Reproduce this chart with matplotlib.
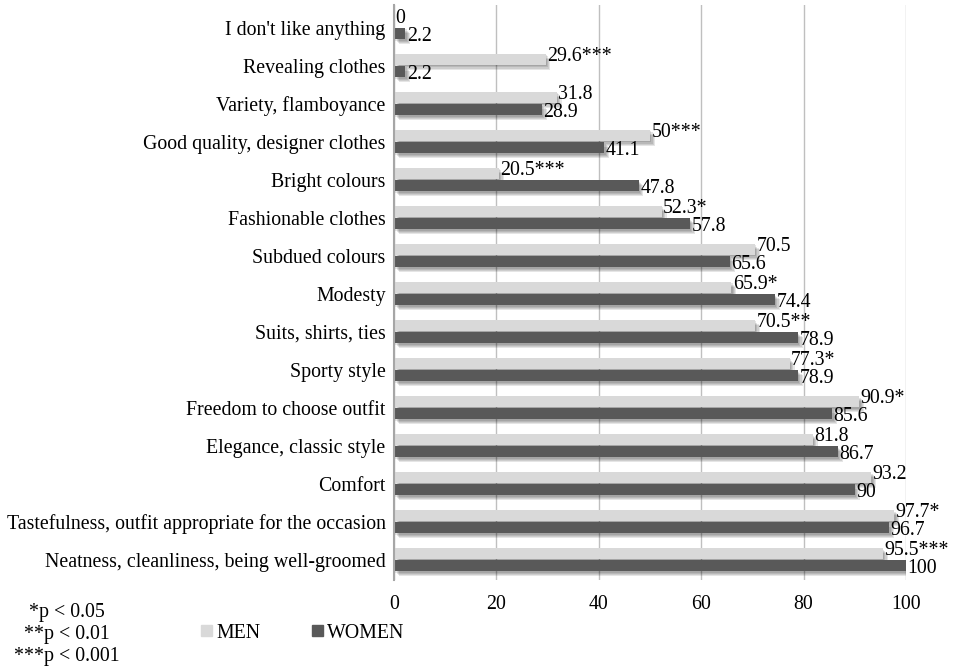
import matplotlib.pyplot as plt
import matplotlib.patheffects as pe
from matplotlib.patches import Patch
import numpy as np

plt.rcParams['font.family'] = ['Liberation Serif', 'DejaVu Serif']

categories = ["I don't like anything", "Revealing clothes", "Variety, flamboyance",
              "Good quality, designer clothes", "Bright colours", "Fashionable clothes",
              "Subdued colours", "Modesty", "Suits, shirts, ties", "Sporty style",
              "Freedom to choose outfit", "Elegance, classic style", "Comfort",
              "Tastefulness, outfit appropriate for the occasion",
              "Neatness, cleanliness, being well-groomed"]
men = [0, 29.6, 31.8, 50, 20.5, 52.3, 70.5, 65.9, 70.5, 77.3, 90.9, 81.8, 93.2, 97.7, 95.5]
men_sig = ["", "***", "", "***", "***", "*", "", "*", "**", "*", "*", "", "", "*", "***"]
women = [2.2, 2.2, 28.9, 41.1, 47.8, 57.8, 65.6, 74.4, 78.9, 78.9, 85.6, 86.7, 90, 96.7, 100]

men_color = '#d9d9d9'
women_color = '#595959'
fs = 14.3

fig = plt.figure(figsize=(9.55, 6.72), dpi=100)
ax = fig.add_axes([0.4126, 0.137, 0.5361, 0.856])

y = np.arange(len(categories))
h = 0.29
off = 0.16
# soft drop shadow, built from a few faint offset copies
shadow = [pe.SimplePatchShadow(offset=(d, -d), alpha=0.1, shadow_rgbFace='black')
          for d in (1, 1.8, 2.6, 3.4)] + [pe.Normal()]
bm = ax.barh(y - off, men, height=h, color=men_color)
bw = ax.barh(y + off, women, height=h, color=women_color)
for b in list(bm) + list(bw):
    b.set_path_effects(shadow)

for i in range(len(categories)):
    ax.annotate(f"{men[i]:g}{men_sig[i]}", (men[i], y[i] - off), xytext=(1, 2),
                textcoords='offset points', va='center', ha='left', fontsize=fs)
    ax.annotate(f"{women[i]:g}", (women[i], y[i] + off), xytext=(1, -2),
                textcoords='offset points', va='center', ha='left', fontsize=fs)

ax.set_yticks(y)
ax.set_yticklabels(categories, fontsize=fs)
ax.set_ylim(len(categories) - 0.47, -0.6)
ax.set_xlim(0, 100)
ax.set_xticks(range(0, 101, 20))
ax.tick_params(axis='x', labelsize=fs, length=0, pad=11)
ax.tick_params(axis='y', length=0, pad=6)
ax.grid(axis='x', color='#bfbfbf', linewidth=1)
ax.set_axisbelow(True)
for s in ['top', 'right', 'bottom']:
    ax.spines[s].set_visible(False)
ax.spines['left'].set_color('#a6a6a6')
ax.spines['left'].set_linewidth(1.5)

handles = [Patch(color=men_color, label='MEN'), Patch(color=women_color, label='WOMEN')]
fig.legend(handles=handles, loc='center', bbox_to_anchor=(0.317, 0.058), ncol=2,
           frameon=False, fontsize=fs, handlelength=0.55, handleheight=0.55,
           handletextpad=0.2, columnspacing=2.6)

for txt, yy in [("*p < 0.05", 612), ("**p < 0.01", 634), ("***p < 0.001", 656)]:
    fig.text(67 / 955, 1 - yy / 672, txt, ha='center', va='center', fontsize=fs)

fig.savefig('out.png', dpi=100)
